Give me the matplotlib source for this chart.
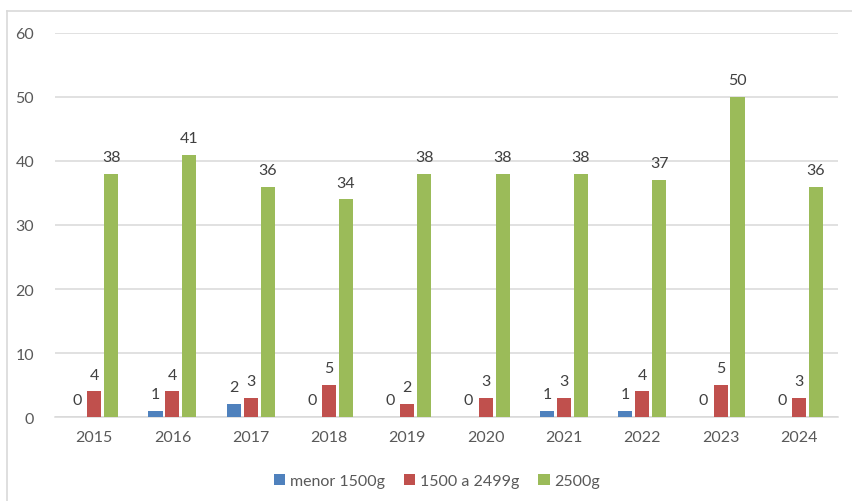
import matplotlib
matplotlib.use("Agg")
import matplotlib.pyplot as plt
import numpy as np

years = ["2015", "2016", "2017", "2018", "2019", "2020", "2021", "2022", "2023", "2024"]
menor_1500 = [0, 1, 2, 0, 0, 0, 1, 1, 0, 0]
entre_1500_2499 = [4, 4, 3, 5, 2, 3, 3, 4, 5, 3]
mayor_2500 = [38, 41, 36, 34, 38, 38, 38, 37, 50, 36]
series_names = ["menor 1500g", "1500 a 2499g", "2500g"]
y_ticks = [0, 10, 20, 30, 40, 50, 60]

colors = ["#4F81BD", "#C0504D", "#9BBB59"]
text_color = "#595959"
grid_color = "#D9D9D9"

plt.rcParams["font.family"] = ["Lato", "DejaVu Sans"]

W, H = 853, 502
fig = plt.figure(figsize=(W / 100, H / 100), dpi=100)

# chart frame (left and top edges visible)
fig.add_artist(plt.Line2D([7 / W, 7 / W], [0, 1 - 12 / H], transform=fig.transFigure,
                          color=grid_color, lw=1.2))
fig.add_artist(plt.Line2D([7 / W, 1], [1 - 12 / H, 1 - 12 / H], transform=fig.transFigure,
                          color=grid_color, lw=1.2))

left, right = 55 / W, 838 / W
top, bottom = 1 - 34 / H, 1 - 418 / H
ax = fig.add_axes([left, bottom, right - left, top - bottom])

x = np.arange(len(years))
width = 0.18
step = 0.217
data = [menor_1500, entre_1500_2499, mayor_2500]

for i, (vals, name, c) in enumerate(zip(data, series_names, colors)):
    pos = x + (i - 1) * step
    ax.bar(pos, vals, width, color=c, label=name, zorder=3)
    for xp, v in zip(pos, vals):
        ax.annotate(str(v), (xp, v), xytext=(0, 7), textcoords="offset points",
                    ha="center", va="bottom", fontsize=11.5, color="#404040")

ax.set_xlim(-0.5, len(years) - 0.5)
ax.set_ylim(0, 60)
ax.set_yticks(y_ticks)
ax.set_xticks(x)
ax.set_xticklabels(years)
ax.grid(axis="y", color=grid_color, lw=1.1, zorder=0)
for s in ["top", "right", "left"]:
    ax.spines[s].set_visible(False)
ax.spines["bottom"].set_color(grid_color)
ax.spines["bottom"].set_linewidth(1.1)
ax.tick_params(axis="both", length=0, labelsize=11.5, colors=text_color)
ax.tick_params(axis="y", pad=15)
ax.tick_params(axis="x", pad=9)

leg = fig.legend(loc="center", bbox_to_anchor=(437 / W, 1 - 482 / H), ncol=3, frameon=False,
                 fontsize=11.5, handlelength=0.7, handleheight=0.7, handletextpad=0.3,
                 columnspacing=1.2)
for t in leg.get_texts():
    t.set_color(text_color)

fig.savefig("out.png", dpi=100)
